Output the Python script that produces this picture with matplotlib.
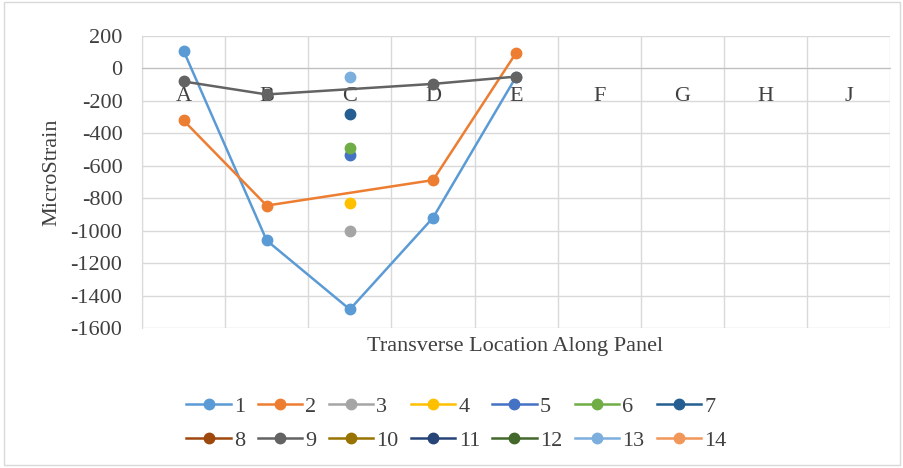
import numpy as np
import matplotlib
matplotlib.use("Agg")
import matplotlib.pyplot as plt
from matplotlib.lines import Line2D
from matplotlib.patches import Rectangle

plt.rcParams['font.family'] = ['Liberation Serif', 'DejaVu Serif']

categories = ["A", "B", "C", "D", "E", "F", "G", "H", "J"]
nan = np.nan
series_names = [str(i) for i in range(1, 15)]
s1 = [110, -1060, -1485, -920, -50, nan, nan, nan, nan]
s2 = [-320, -845, nan, -688, 97, nan, nan, nan, nan]
s3 = [nan, nan, -1000, nan, nan, nan, nan, nan, nan]
s4 = [nan, nan, -830, nan, nan, nan, nan, nan, nan]
s5 = [nan, nan, -535, nan, nan, nan, nan, nan, nan]
s6 = [nan, nan, -492, nan, nan, nan, nan, nan, nan]
s7 = [nan, nan, -280, nan, nan, nan, nan, nan, nan]
s8 = [nan] * 9
s9 = [-80, -160, nan, -95, -50, nan, nan, nan, nan]
s10 = [nan] * 9
s11 = [nan] * 9
s12 = [nan] * 9
s13 = [nan, nan, -55, nan, nan, nan, nan, nan, nan]
s14 = [nan] * 9
all_series = [s1, s2, s3, s4, s5, s6, s7, s8, s9, s10, s11, s12, s13, s14]

colors = ["#5B9BD5", "#ED7D31", "#A5A5A5", "#FFC000", "#4472C4", "#70AD47",
          "#255E91", "#9E480E", "#636363", "#997300", "#264478", "#43682B",
          "#7CAFDD", "#F1975A"]

FS = 16
fig = plt.figure(figsize=(9.04, 4.68), dpi=100)
fig.patches.append(Rectangle((0.004, 0.006), 0.992, 0.99, transform=fig.transFigure,
                             fill=False, edgecolor="#D9D9D9", linewidth=1.0))
ax = fig.add_axes([0.157, 0.299, 0.828, 0.624])

ax.spines['bottom'].set_position(('data', 0))
ax.spines['bottom'].set_color("#BFBFBF")
ax.spines['top'].set_visible(False)
ax.spines['right'].set_visible(False)
ax.spines['left'].set_color("#D9D9D9")

x = np.arange(len(categories))
handles = []
for name, vals, c in zip(series_names, all_series, colors):
    v = np.array(vals, dtype=float)
    m = ~np.isnan(v)
    ax.plot(x[m], v[m], color=c, linewidth=1.8, marker='o', markersize=7.5,
            zorder=3, clip_on=False)
    handles.append(Line2D([], [], color=c, linewidth=1.8, marker='o', markersize=7.5))

ax.set_xlim(-0.5, len(categories) - 0.5)
ax.set_ylim(-1600, 200)
ax.set_yticks(np.arange(-1600, 201, 200))
ax.set_yticklabels([str(v) for v in range(-1600, 201, 200)])
ax.set_xticks(x)
ax.set_xticklabels(categories)
ax.set_xticks(np.arange(-0.5, len(categories), 1.0), minor=True)
ax.tick_params(axis='both', which='both', length=0, labelsize=FS, labelcolor="#404040")
ax.tick_params(axis='y', pad=14)
ax.tick_params(axis='x', pad=13)

ax.grid(True, axis='y', which='major', color="#D9D9D9", linewidth=1.0, zorder=0)
ax.grid(True, axis='x', which='minor', color="#D9D9D9", linewidth=1.0, zorder=0)
ax.set_axisbelow(True)
ax.xaxis.set_zorder(1.0)

fig.text(0.057, 0.632, "MicroStrain", rotation=90, ha='center', va='center',
         fontsize=FS, color="#404040")
fig.text(0.57, 0.26, "Transverse Location Along Panel", ha='center', va='center',
         fontsize=FS, color="#404040")

# reorder so legend fills row by row (matplotlib fills columns first)
ncol = 7
nrow = 2
order = [r * ncol + c for c in range(ncol) for r in range(nrow)]
fig.legend([handles[i] for i in order], [series_names[i] for i in order],
           loc='center', bbox_to_anchor=(0.505, 0.095),
           ncol=ncol, frameon=False, fontsize=FS, handlelength=2.0, handletextpad=0.15,
           columnspacing=0.55, labelspacing=0.6, labelcolor="#404040")

fig.savefig("out.png", dpi=100)
